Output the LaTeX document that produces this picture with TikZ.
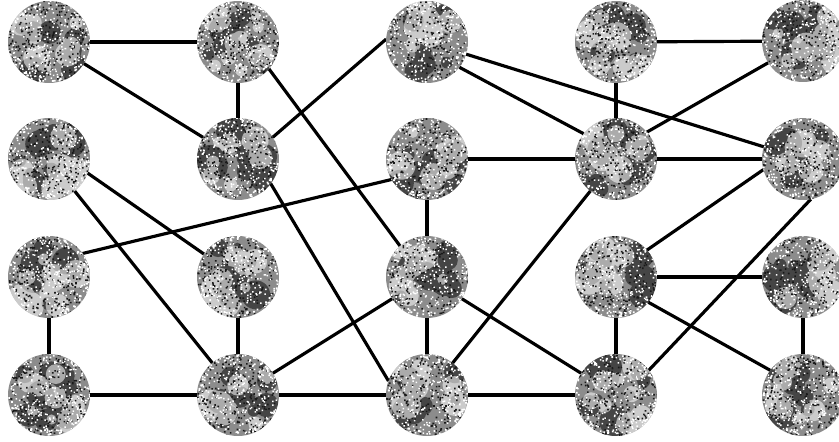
\documentclass[tikz,border=0pt]{standalone}
\pgfdeclarelayer{bg}
\pgfsetlayers{bg,main}
\tikzset{
  moon/.style={circle, minimum size=1.64cm, inner sep=0pt, outer sep=0pt, fill=black!45,
    path picture={
      \begin{scope}[shift={(path picture bounding box.center)}, x=1cm, y=1cm]
        \fill[black, opacity=0.5] \foreach \k in {1,...,10}{({rand*0.6},{rand*0.6}) circle[radius={0.1+0.2*rnd}]};
        \fill[white, opacity=0.55] \foreach \k in {1,...,9}{({rand*0.6},{rand*0.6}) circle[radius={0.1+0.2*rnd}]};
        \fill[black!90] \foreach \k in {1,...,300}{({rand*0.82},{rand*0.82}) rectangle ++(0.032,0.032)};
        \fill[white] \foreach \k in {1,...,300}{({rand*0.82},{rand*0.82}) rectangle ++(0.03,0.03)};
        \fill[white] \foreach \k in {1,...,50}{({360*rnd}:{0.72+0.1*rnd}) rectangle ++(0.035,0.035)};
      \end{scope}
    }},
  link/.style={line width=1.8pt, black}
}
\begin{document}
\begin{tikzpicture}[x=0.02cm, y=-0.02cm]
\pgfmathsetseed{4711}
\useasboundingbox (0,0) rectangle (839,442);
% row 1
\node[moon] (n11) at (49,42) {};
\node[moon] (n12) at (238,42) {};
\node[moon] (n13) at (427,42) {};
\node[moon] (n14) at (616,42) {};
\node[moon] (n15) at (803,41) {};
% row 2
\node[moon] (n21) at (49,159) {};
\node[moon] (n22) at (238,159) {};
\node[moon] (n23) at (427,159) {};
\node[moon] (n24) at (616,159) {};
\node[moon] (n25) at (803,159) {};
% row 3
\node[moon] (n31) at (49,277) {};
\node[moon] (n32) at (238,277) {};
\node[moon] (n33) at (427,277) {};
\node[moon] (n34) at (616,277) {};
\node[moon] (n35) at (803,277) {};
% row 4
\node[moon] (n41) at (49,395) {};
\node[moon] (n42) at (238,395) {};
\node[moon] (n43) at (427,395) {};
\node[moon] (n44) at (616,395) {};
\node[moon] (n45) at (803,395) {};
\begin{pgfonlayer}{bg}
\fill[white] (0,0) rectangle (839,442);
\draw[link] (n11) -- (n12);
\draw[link] (n11) -- (n22);
\draw[link] (n12) -- (n22);
\draw[link] (n12.-41) -- (n33.131);
\draw[link] (n22.32) -- (n13.176);
\draw[link] (n22.-37) -- (n43.160);
\draw[link] (n21.-20) -- (n32.146);
\draw[link] (n21) -- (n42);
\draw[link] (n31.35) -- (n23.210);
\draw[link] (n31) -- (n41);
\draw[link] (n32) -- (n42);
\draw[link] (n41) -- (n42);
\draw[link] (n42) -- (n43);
\draw[link] (n42) -- (n33);
\draw[link] (n13.-38) -- (n24.142);
\draw[link] (n13) -- (n25);
\draw[link] (n14) -- (n15);
\draw[link] (n14) -- (n24);
\draw[link] (n24.41) -- (n15.212);
\draw[link] (n23) -- (n24);
\draw[link] (n24) -- (n25);
\draw[link] (n23) -- (n33);
\draw[link] (n24) -- (n43);
\draw[link] (n25.195) -- (n34.41);
\draw[link] (n25.-79) -- (n44.37);
\draw[link] (n33) -- (n44);
\draw[link] (n34) -- (n35);
\draw[link] (n34) -- (n44);
\draw[link] (n34.-38) -- (n45.143);
\draw[link] (n35) -- (n45);
\draw[link] (n43) -- (n44);
\draw[link] (n33) -- (n43);
\end{pgfonlayer}
\end{tikzpicture}
\end{document}
